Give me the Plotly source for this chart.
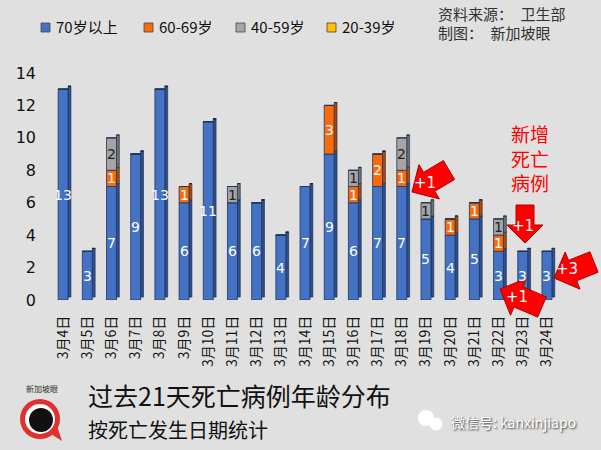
import math
import plotly.graph_objects as go

dates = ["3月4日", "3月5日", "3月6日", "3月7日", "3月8日", "3月9日", "3月10日",
         "3月11日", "3月12日", "3月13日", "3月14日", "3月15日", "3月16日", "3月17日",
         "3月18日", "3月19日", "3月20日", "3月21日", "3月22日", "3月23日", "3月24日"]
age70 = [13, 3, 7, 9, 13, 6, 11, 6, 6, 4, 7, 9, 6, 7, 7, 5, 4, 5, 3, 3, 3]
age60 = [0, 0, 1, 0, 0, 1, 0, 0, 0, 0, 0, 3, 1, 2, 1, 0, 1, 1, 1, 0, 0]
age40 = [0, 0, 2, 0, 0, 0, 0, 1, 0, 0, 0, 0, 1, 0, 2, 1, 0, 0, 1, 0, 0]
age20 = [0] * 21
series_names = ["70岁以上", "60-69岁", "40-59岁", "20-39岁"]
series_colors = ["#4472c4", "#f96a0a", "#a5a5a5", "#ffc000"]
side_colors = ["#2c4f8f", "#b54800", "#6f6f6f", "#c09000"]
text_colors = ["white", "white", "#222222", "#222222"]
y_ticks = [0, 2, 4, 6, 8, 10, 12, 14]

W, H = 601, 450
L, R, T, B = 51, 42, 73, 150
PW, PH = W - L - R, H - T - B
FRONT_W = 0.41
SIDE_W = 0.12
LIFT = 0.18


def px(x, y):
    return (x - L) / PW, (H - B - y) / PH


fig = go.Figure()
all_series = [age70, age60, age40, age20]
annotations = []
base = [0] * 21
for name, vals, col, scol, tc in zip(series_names, all_series, series_colors,
                                      side_colors, text_colors):
    # side face (3D depth)
    fig.add_trace(go.Bar(
        x=dates, y=vals, base=[b + LIFT for b in base], name=name + " side",
        offset=FRONT_W / 2, width=SIDE_W, showlegend=False, hoverinfo="skip",
        marker=dict(color=scol, line=dict(color="#1d2a45", width=0.6)),
    ))
    fig.add_trace(go.Bar(
        x=dates, y=vals, base=list(base), name=name,
        offset=-FRONT_W / 2, width=FRONT_W, showlegend=False,
        marker=dict(color=col, line=dict(color="#22345a", width=0.8)),
    ))
    for i, v in enumerate(vals):
        if v:
            annotations.append(dict(x=dates[i], y=base[i] + v / 2, text=str(v),
                                    showarrow=False, xanchor="center", yanchor="middle",
                                    font=dict(size=14, color=tc, family="DejaVu Sans")))
    base = [b + v for b, v in zip(base, vals)]


def block_arrow(tip, tail, shaft_w, head_w, head_l):
    tx, ty = tip
    sx, sy = tail
    dx, dy = tx - sx, ty - sy
    ln = math.hypot(dx, dy)
    ux, uy = dx / ln, dy / ln
    nx, ny = -uy, ux
    hbx, hby = tx - ux * head_l, ty - uy * head_l
    pts = [
        (sx + nx * shaft_w / 2, sy + ny * shaft_w / 2),
        (hbx + nx * shaft_w / 2, hby + ny * shaft_w / 2),
        (hbx + nx * head_w / 2, hby + ny * head_w / 2),
        (tx, ty),
        (hbx - nx * head_w / 2, hby - ny * head_w / 2),
        (hbx - nx * shaft_w / 2, hby - ny * shaft_w / 2),
        (sx - nx * shaft_w / 2, sy - ny * shaft_w / 2),
    ]
    pp = [px(a, b) for a, b in pts]
    path = "M " + " L ".join(f"{a:.4f},{b:.4f}" for a, b in pp) + " Z"
    return dict(type="path", path=path, xref="paper", yref="paper",
                fillcolor="#ff0000", line=dict(color="#b00000", width=1), layer="above")


shapes = []


def txt(x, y, s, size, color, xanchor="left", family="Noto Sans CJK SC", shadow=None):
    ax, ay = px(x, y)
    f = dict(size=size, color=color, family=family)
    if shadow:
        f["shadow"] = shadow
    annotations.append(dict(x=ax, y=ay, xref="paper", yref="paper", text=s,
                            showarrow=False, xanchor=xanchor, yanchor="middle", font=f))


arrows = [
    ((412, 192), (449, 170), 22, 40, 20, "+1", (425, 183)),
    ((525, 243), (525, 205), 18, 36, 18, "+1", (523, 226)),
    ((554, 278), (594, 262), 22, 40, 20, "+3", (567, 269)),
    ((500, 289), (542, 307), 22, 40, 20, "+1", (517, 297)),
]
for tip, tail, sw, hw, hl, lab, (lx, ly) in arrows:
    shapes.append(block_arrow(tip, tail, sw, hw, hl))
    txt(lx, ly, lab, 15, "white", "center", "DejaVu Sans")

# legend (drawn manually)
legend_x = [41, 144, 236, 327]
for lx, name, col in zip(legend_x, series_names, series_colors):
    x0, y0 = px(lx, 23)
    x1, y1 = px(lx + 9, 32)
    shapes.append(dict(type="rect", xref="paper", yref="paper", x0=x0, x1=x1, y0=y0, y1=y1,
                       fillcolor=col, line=dict(color="#444444", width=0.8)))
    txt(lx + 13, 27, name, 15, "#111111")


def circle(cxp, cyp, r, color):
    cx, cy = px(cxp, cyp)
    shapes.append(dict(type="circle", xref="paper", yref="paper",
                       x0=cx - r / PW, x1=cx + r / PW, y0=cy - r / PH, y1=cy + r / PH,
                       fillcolor=color, line=dict(width=0)))


# logo
lp = [px(48, 432), px(62, 441), px(57, 426)]
shapes.append(dict(type="path", xref="paper", yref="paper",
                   path="M " + " L ".join(f"{a:.4f},{b:.4f}" for a, b in lp) + " Z",
                   fillcolor="#e03030", line=dict(width=0)))
circle(40, 419, 20, "#e03030")
circle(40, 419, 15, "white")
circle(41, 420, 12, "#111111")
txt(42, 388, "新加坡眼", 8, "#333333", "center")

# wechat bubbles
circle(426, 418, 8, "white")
circle(436, 424, 6.5, "white")

txt(436, 14, "资料来源：&#8194;卫生部", 15, "#333333")
txt(436, 33, "制图：&#8194;新加坡眼", 15, "#333333")
txt(530, 158, "新增<br>死亡<br>病例", 19, "#ff0000", "center")
txt(86, 395, "过去21天死亡病例年龄分布", 25, "#111111")
txt(86, 429, "按死亡发生日期统计", 20, "#111111")
txt(449, 422, "微信号: kanxinjiapo", 14, "white", shadow="1px 1px 2px #333")

fig.update_layout(
    width=W, height=H,
    margin=dict(l=L, r=R, t=T, b=B, autoexpand=False),
    barmode="overlay",
    paper_bgcolor="#e0e0e0",
    plot_bgcolor="rgba(0,0,0,0)",
    font=dict(family="Noto Sans CJK SC", color="#111111"),
    showlegend=False,
    xaxis=dict(tickangle=-90, tickfont=dict(size=14, family="Noto Sans CJK SC", color="#111111"),
               showline=False, showgrid=False, ticks="", ticklabelstandoff=12,
               range=[-0.5, 20.5]),
    yaxis=dict(range=[0, 14], tickvals=y_ticks, tickfont=dict(size=16, family="DejaVu Sans"),
               showgrid=False, zeroline=False, ticks="", ticklabelstandoff=14),
    shapes=shapes,
    annotations=annotations,
)

fig.write_html("out.html")
